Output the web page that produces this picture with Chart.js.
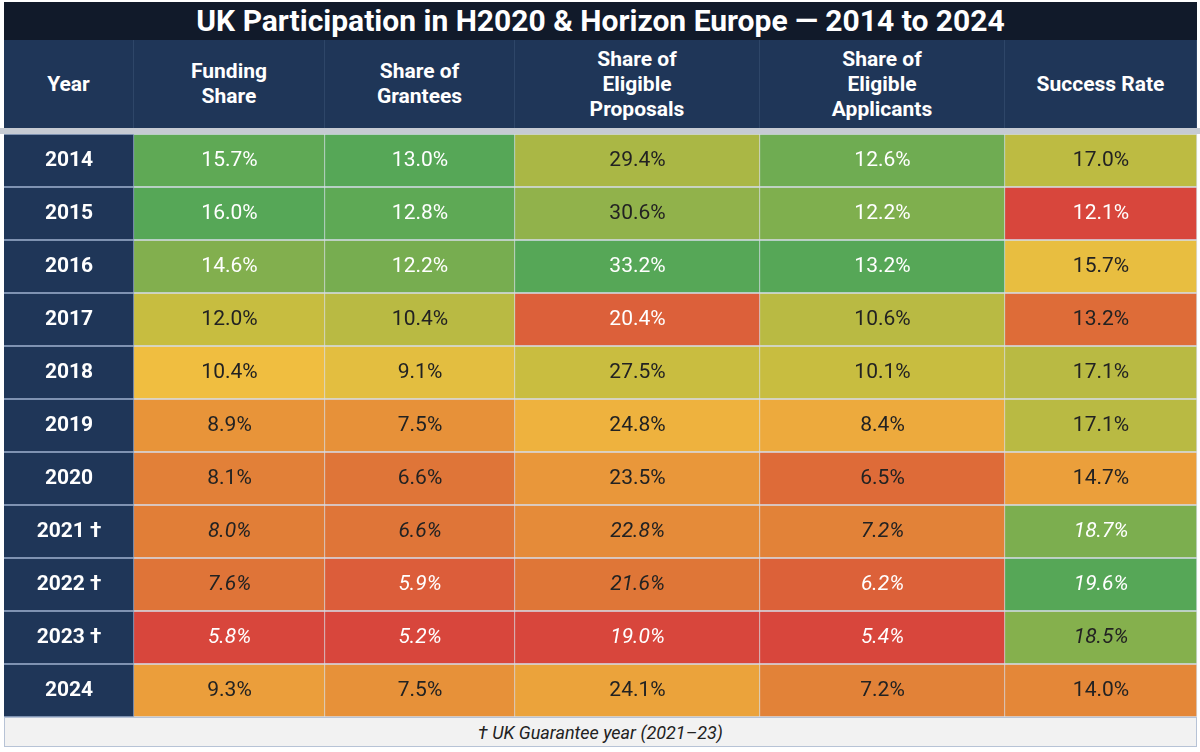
<!DOCTYPE html>
<html><head><meta charset="utf-8">
<script src="https://cdn.jsdelivr.net/npm/chart.js@4"></script>
<style>
  body { margin:0; width:1200px; height:752px; background:#fff; font-family:Roboto, sans-serif; position:relative; overflow:hidden; }
  .abs { position:absolute; box-sizing:border-box; }
  #title { left:4px; top:2px; width:1193px; height:38px; background:#111a2a; color:#fff; font-weight:700; font-size:30px; text-align:center; line-height:38px; }
  .hd { top:40px; height:88px; background:#1f3658; color:#fff; font-weight:700; font-size:21px; display:flex; align-items:center; justify-content:center; text-align:center; line-height:25px; border-right:1px solid #2e4668; }
  #band { left:0; top:128px; width:1200px; height:6px; background:#c6cbd3; }
  #foot { left:4px; top:717px; width:1193px; height:30px; background:#f2f2f2; font-style:italic; font-size:18px; color:#222; text-align:center; line-height:30px; border:1px solid #b7c3d6; }
  #wrap { left:0; top:134px; width:1200px; height:583px; }
</style></head>
<body>
<div id="title" class="abs">UK Participation in H2020 &amp; Horizon Europe — 2014 to 2024</div>
<div id="heads"></div>
<div id="band" class="abs"></div>
<div id="wrap" class="abs"><canvas id="c" width="1200" height="583"></canvas></div>
<div id="foot" class="abs">† UK Guarantee year (2021–23)</div>
<script>
const years = ["2014","2015","2016","2017","2018","2019","2020","2021 †","2022 †","2023 †","2024"];
const guaranteeYears = ["2021 †","2022 †","2023 †"];
const headers = ["Year","Funding<br>Share","Share of<br>Grantees","Share of<br>Eligible<br>Proposals","Share of<br>Eligible<br>Applicants","Success Rate"];
const fundingShare = [15.7,16.0,14.6,12.0,10.4,8.9,8.1,8.0,7.6,5.8,9.3];
const granteeShare = [13.0,12.8,12.2,10.4,9.1,7.5,6.6,6.6,5.9,5.2,7.5];
const proposalShare = [29.4,30.6,33.2,20.4,27.5,24.8,23.5,22.8,21.6,19.0,24.1];
const applicantShare = [12.6,12.2,13.2,10.6,10.1,8.4,6.5,7.2,6.2,5.4,7.2];
const successRate = [17.0,12.1,15.7,13.2,17.1,17.1,14.7,18.7,19.6,18.5,14.0];
const columns = [fundingShare, granteeShare, proposalShare, applicantShare, successRate];
const edges = [4,134,325,515,760,1005,1197];

// header cells
const heads = document.getElementById("heads");
headers.forEach((h, i) => {
  const d = document.createElement("div");
  d.className = "abs hd";
  d.style.left = edges[i] + "px";
  d.style.width = (edges[i + 1] - edges[i]) + "px";
  d.innerHTML = h;
  heads.appendChild(d);
});

const stops = [[0,"#d8463c"],[0.2,"#e07a37"],[0.33,"#ea9a3a"],[0.45,"#f0be40"],[0.6,"#c9bd40"],[0.75,"#a6b646"],[1,"#56a757"]];
function hex(c) { return [1,3,5].map((i) => parseInt(c.slice(i, i + 2), 16)); }
function colorAt(t) {
  for (let i = 1; i < stops.length; i++) {
    if (t <= stops[i][0]) {
      const [t0, c0] = stops[i - 1], [t1, c1] = stops[i];
      const f = (t - t0) / (t1 - t0), a = hex(c0), b = hex(c1);
      return "rgb(" + a.map((v, k) => Math.round(v + (b[k] - v) * f)).join(",") + ")";
    }
  }
  return stops[stops.length - 1][1];
}
function norm(arr) {
  const lo = Math.min(...arr), hi = Math.max(...arr);
  return arr.map((v) => (v - lo) / (hi - lo));
}

const datasets = [{
  data: years.map(() => [edges[0], edges[1]]),
  backgroundColor: "#1f3658",
  borderColor: "#9fb2cf",
  labels: years,
  textColors: years.map(() => "#fff"),
  bold: true
}];
columns.forEach((col, i) => {
  const t = norm(col);
  datasets.push({
    data: col.map(() => [edges[i + 1], edges[i + 2]]),
    backgroundColor: t.map(colorAt),
    borderColor: "#d6dde8",
    labels: col.map((v) => v.toFixed(1) + "%"),
    textColors: t.map((v) => (v < 0.105 || v > 0.86 ? "#fff" : "#222"))
  });
});
datasets.forEach((d) => { d.borderWidth = 1; d.barPercentage = 1; d.categoryPercentage = 1; d.grouped = false; });

const cellText = {
  id: "cellText",
  afterDatasetsDraw(chart) {
    const ctx = chart.ctx;
    ctx.save();
    ctx.textAlign = "center";
    ctx.textBaseline = "middle";
    chart.data.datasets.forEach((ds, di) => {
      chart.getDatasetMeta(di).data.forEach((bar, j) => {
        const it = guaranteeYears.includes(years[j]) && !ds.bold;
        ctx.font = (it ? "italic " : "") + (ds.bold ? "700 " : "400 ") + "21px Roboto";
        ctx.fillStyle = ds.textColors[j];
        ctx.fillText(ds.labels[j], (bar.base + bar.x) / 2, bar.y);
      });
    });
    ctx.restore();
  }
};

new Chart(document.getElementById("c"), {
  type: "bar",
  data: { labels: years, datasets },
  options: {
    indexAxis: "y",
    responsive: false,
    animation: false,
    layout: { padding: 0 },
    plugins: { legend: { display: false }, tooltip: { enabled: false } },
    scales: {
      x: { type: "linear", min: 0, max: 1200, display: false },
      y: { display: false }
    }
  },
  plugins: [cellText]
});
</script>
</body></html>
